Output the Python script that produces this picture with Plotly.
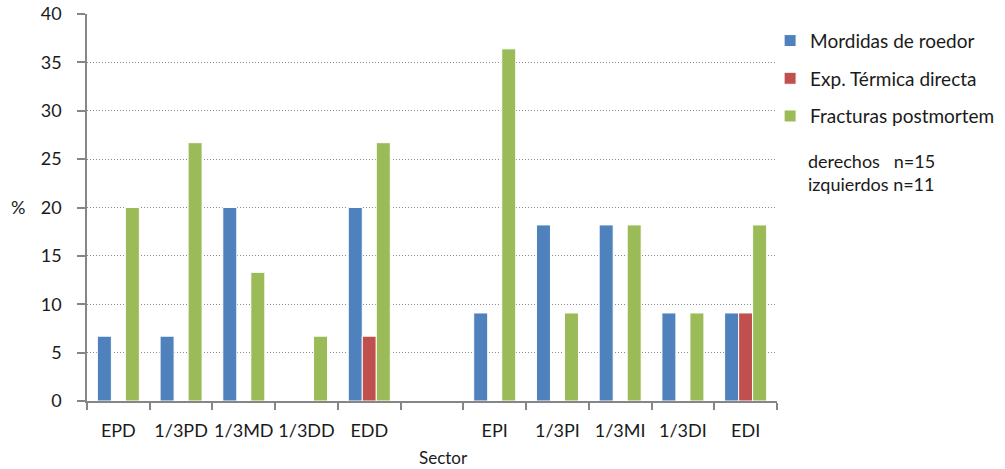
import plotly.graph_objects as go

# Sectores óseos (derechos / izquierdos), con una categoría vacía de separación
sectores = ["EPD", "1/3PD", "1/3MD", "1/3DD", "EDD", " ",
            "EPI", "1/3PI", "1/3MI", "1/3DI", "EDI"]

mordidas = [6.7, 6.7, 20.0, 0, 20.0, None, 9.1, 18.2, 18.2, 9.1, 9.1]
termica = [0, 0, 0, 0, 6.7, None, 0, 0, 0, 0, 9.1]
fracturas = [20.0, 26.7, 13.3, 6.7, 26.7, None, 36.4, 9.1, 18.2, 9.1, 18.2]

series = [
    ("Mordidas de roedor", mordidas, "#4F81BD"),
    ("Exp. Térmica directa", termica, "#C0504D"),
    ("Fracturas postmortem", fracturas, "#9BBB59"),
]

FONT = "Lato, 'Open Sans', sans-serif"
TXT = "#1a1a1a"
AXIS = "#868686"

fig = go.Figure()
for i, (name, vals, color) in enumerate(series):
    fig.add_trace(go.Bar(
        x=sectores, y=vals, name=name, legendgroup=f"g{i}",
        marker=dict(color=color, line=dict(color="white", width=1)),
    ))

fig.update_layout(
    width=1005, height=469,
    margin=dict(l=87, r=228, t=14, b=68, autoexpand=False),
    paper_bgcolor="white", plot_bgcolor="white",
    barmode="group", bargap=0.33, bargroupgap=0,
    font=dict(family=FONT, size=18, color=TXT),
    legend=dict(
        x=0.99, xanchor="left", y=0.98, yanchor="top",
        font=dict(size=19, color=TXT), tracegroupgap=10,
        bgcolor="rgba(0,0,0,0)",
    ),
    xaxis=dict(
        type="category", tickson="boundaries", tickangle=0, automargin=False,
        showline=True, linecolor=AXIS, linewidth=1.5,
        ticks="outside", ticklen=7, tickcolor=AXIS, tickwidth=1.5,
        ticklabelstandoff=13,
        tickfont=dict(size=18, color=TXT),
        showgrid=False, zeroline=False,
    ),
    yaxis=dict(
        range=[0, 40], dtick=5, tick0=0, automargin=False,
        showline=True, linecolor=AXIS, linewidth=1.5,
        ticks="outside", ticklen=8, tickcolor=AXIS, tickwidth=1.5,
        ticklabelstandoff=12,
        tickfont=dict(size=18, color=TXT),
        showgrid=True, gridcolor="#8a8a8a", griddash="1px,2px", gridwidth=1,
        zeroline=False,
    ),
    annotations=[
        dict(text="Sector", xref="paper", yref="paper", x=0.516, y=-0.145,
             xanchor="center", yanchor="middle", showarrow=False,
             font=dict(size=17, color=TXT)),
        dict(text="%", xref="paper", yref="paper", x=-0.1, y=0.501,
             xanchor="center", yanchor="middle", showarrow=False,
             font=dict(size=18, color=TXT)),
        dict(text="derechos&nbsp;&nbsp;&nbsp;n=15<br>izquierdos n=11",
             xref="paper", yref="paper", x=1.0416, y=0.653,
             xanchor="left", yanchor="top", align="left", showarrow=False,
             font=dict(size=18, color=TXT)),
    ],
)

fig.write_html("out.html")
